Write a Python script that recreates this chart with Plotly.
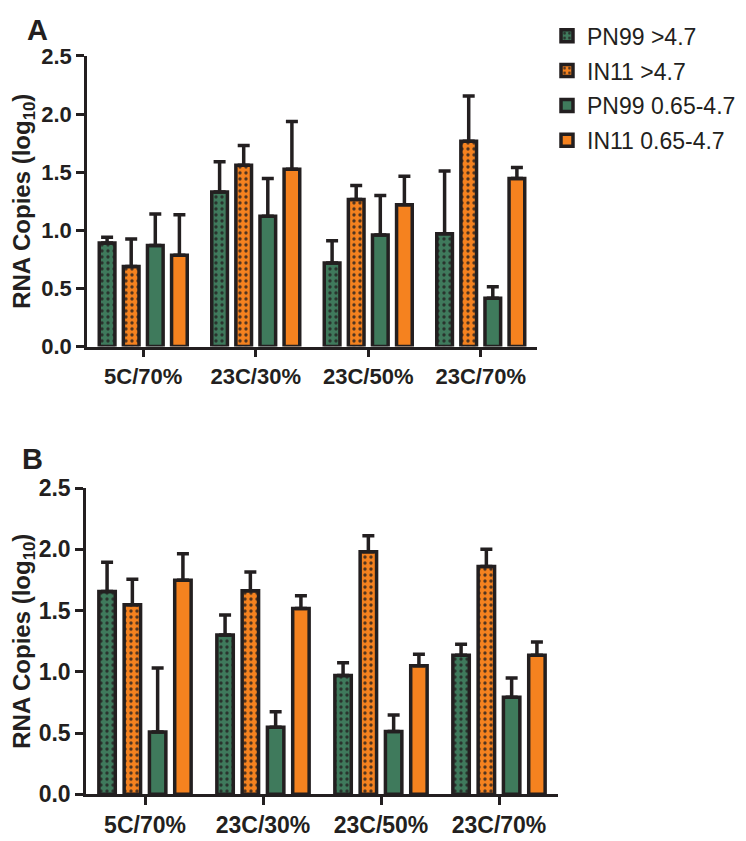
import plotly.graph_objects as go

# ---------------- data ----------------
categories = ["5C/70%", "23C/30%", "23C/50%", "23C/70%"]
series_names = ["PN99 >4.7", "IN11 >4.7", "PN99 0.65-4.7", "IN11 0.65-4.7"]

# Panel A: means and upper error (SEM)
a_pn99_hi = [0.89, 1.33, 0.72, 0.97]
a_in11_hi = [0.69, 1.56, 1.265, 1.765]
a_pn99_lo = [0.87, 1.12, 0.96, 0.415]
a_in11_lo = [0.785, 1.525, 1.22, 1.445]
a_err_pn99_hi = [0.05, 0.26, 0.19, 0.54]
a_err_in11_hi = [0.235, 0.17, 0.12, 0.39]
a_err_pn99_lo = [0.27, 0.325, 0.34, 0.10]
a_err_in11_lo = [0.35, 0.41, 0.245, 0.095]

# Panel B
b_pn99_hi = [1.655, 1.30, 0.97, 1.135]
b_in11_hi = [1.547, 1.663, 1.98, 1.86]
b_pn99_lo = [0.508, 0.548, 0.513, 0.793]
b_in11_lo = [1.748, 1.518, 1.05, 1.136]
b_err_pn99_hi = [0.24, 0.165, 0.105, 0.09]
b_err_in11_hi = [0.208, 0.152, 0.13, 0.14]
b_err_pn99_lo = [0.524, 0.126, 0.134, 0.157]
b_err_in11_lo = [0.217, 0.104, 0.093, 0.107]

y_ticks = [0, 0.5, 1.0, 1.5, 2.0, 2.5]

# ---------------- style ----------------
GREEN = "#3F7A5C"
ORANGE = "#F5821F"
DARK = "#231F20"
FONT = "Arial, Liberation Sans, sans-serif"
colors = [GREEN, ORANGE, GREEN, ORANGE]
patterned = [True, True, False, False]

W, H = 746, 841
OFF = 8  # page body margin


def fx(px):
    return (px - OFF) / W


def fy(py):
    return 1 - (py - OFF) / H


fig = go.Figure()

panels = [
    ("x", "y", [a_pn99_hi, a_in11_hi, a_pn99_lo, a_in11_lo],
     [a_err_pn99_hi, a_err_in11_hi, a_err_pn99_lo, a_err_in11_lo], True),
    ("x2", "y2", [b_pn99_hi, b_in11_hi, b_pn99_lo, b_in11_lo],
     [b_err_pn99_hi, b_err_in11_hi, b_err_pn99_lo, b_err_in11_lo], False),
]

for xa, ya, vals, errs, show in panels:
    for i, name in enumerate(series_names):
        pattern = dict(shape=".", size=6, solidity=0.25, fgcolor=DARK,
                       fgopacity=0.8) if patterned[i] else dict(shape="")
        fig.add_trace(go.Bar(
            x=categories, y=vals[i], name=name,
            xaxis=xa, yaxis=ya,
            marker=dict(color=colors[i], line=dict(color=DARK, width=3.5),
                        pattern=pattern),
            error_y=dict(type="data", symmetric=False, array=errs[i],
                         arrayminus=[0] * len(errs[i]),
                         color=DARK, thickness=3.5, width=6),
            showlegend=show, legendgroup=name,
            offsetgroup=str(i),
        ))

axis_common = dict(showline=True, linecolor=DARK, linewidth=2.5,
                   ticks="outside", tickcolor=DARK, tickwidth=2.5, ticklen=8,
                   showgrid=False, zeroline=False)

fig.update_layout(
    width=W, height=H,
    margin=dict(l=0, r=0, t=0, b=0),
    paper_bgcolor="white", plot_bgcolor="white",
    barmode="group", bargap=0.143, bargroupgap=0.35,
    font=dict(family=FONT, color=DARK),
    xaxis=dict(domain=[fx(87), fx(537)], anchor="y", range=[-0.5, 3.5],
               tickfont=dict(size=22, family=FONT, color=DARK, weight="bold"),
               **axis_common),
    yaxis=dict(domain=[fy(344), fy(44)], anchor="x", range=[0, 2.5],
               tickvals=y_ticks, tickformat=".1f",
               tickfont=dict(size=22, family=FONT, color=DARK, weight="bold"),
               title=dict(text="RNA Copies (log<sub>10</sub>)", standoff=10,
                          font=dict(size=24, family=FONT, color=DARK, weight="bold")),
               **axis_common),
    xaxis2=dict(domain=[fx(86), fx(558)], anchor="y2", range=[-0.5, 3.5],
                tickfont=dict(size=23, family=FONT, color=DARK, weight="bold"),
                **axis_common),
    yaxis2=dict(domain=[fy(806), fy(490)], anchor="x2", range=[0, 2.5],
                tickvals=y_ticks, tickformat=".1f",
                tickfont=dict(size=23, family=FONT, color=DARK, weight="bold"),
                title=dict(text="RNA Copies (log<sub>10</sub>)", standoff=10,
                           font=dict(size=24, family=FONT, color=DARK, weight="bold")),
                **axis_common),
    legend=dict(x=fx(547), y=fy(1), xanchor="left", yanchor="top",
                font=dict(size=23, family=FONT, color=DARK),
                tracegroupgap=2, bgcolor="rgba(0,0,0,0)"),
    annotations=[
        dict(text="<b>A</b>", x=fx(37), y=fy(17), xref="paper", yref="paper",
             xanchor="center", yanchor="middle",
             showarrow=False, font=dict(size=29, family=FONT, color=DARK)),
        dict(text="<b>B</b>", x=fx(32), y=fy(460), xref="paper", yref="paper",
             xanchor="center", yanchor="middle",
             showarrow=False, font=dict(size=29, family=FONT, color=DARK)),
    ],
)

fig.write_html("out.html")
